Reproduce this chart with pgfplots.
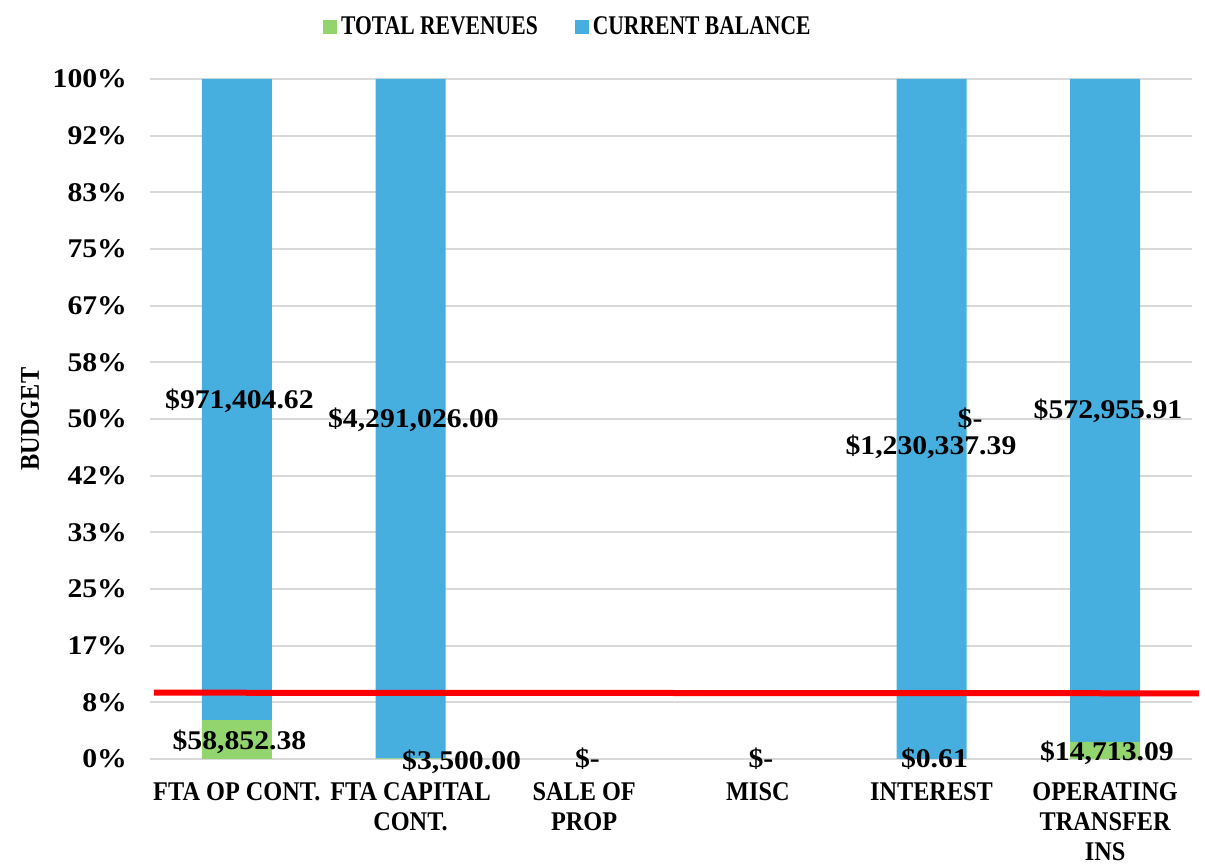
\documentclass[border=0pt]{standalone}
\usepackage{fontspec}
\setmainfont{Liberation Serif}
\newfontfamily\nf{Liberation Serif}[FakeStretch=1.1]
\newfontfamily\kf{Liberation Serif}[FakeStretch=0.9]
\newfontfamily\lf{Liberation Serif}[FakeStretch=0.8]
\usepackage{pgfplots}
\pgfplotsset{compat=1.18}
\definecolor{grn}{RGB}{146,213,110}
\definecolor{blu}{RGB}{70,175,223}
\newcommand\cf{\nf\fontsize{13.5pt}{16.5pt}\selectfont\bfseries}
\newcommand\kcf{\kf\fontsize{13.5pt}{15pt}\selectfont\bfseries}
\newcommand\lcf{\lf\fontsize{13.5pt}{16.5pt}\selectfont\bfseries}
\begin{document}
\begin{tikzpicture}
\begin{axis}[
 name=ax,
 scale only axis, width=521pt, height=340pt,
 xmin=-0.5, xmax=5.5, ymin=0, ymax=100,
 clip=false,
 ybar stacked, bar width=35pt,
 axis line style={draw=none},
 major tick length=0pt,
 ymajorgrids, grid style={gray!30, line width=1pt},
 ytick={0,8.3333,16.6667,25,33.3333,41.6667,50,58.3333,66.6667,75,83.3333,91.6667,100},
 yticklabels={0\%,8\%,17\%,25\%,33\%,42\%,50\%,58\%,67\%,75\%,83\%,92\%,100\%},
 xtick={0,1,2,3,4,5},
 xticklabels={FTA OP CONT.,FTA CAPITAL\\CONT.,SALE OF\\PROP,MISC,INTEREST,OPERATING\\TRANSFER\\INS},
 xticklabel style={align=center, font=\kcf, anchor=north, yshift=-8.5pt},
 yticklabel style={font=\cf, xshift=-8pt},
 ylabel={BUDGET},
 ylabel style={font=\kcf, at={([xshift=-60pt]axis description cs:0,0.5)}, anchor=center},
 legend style={at={(axis description cs:0.402,1.076)}, anchor=center, draw=none, font=\lcf,
   /tikz/every even column/.append style={column sep=16.5pt}},
 legend columns=2, legend cell align=left,
]
\addplot[fill=grn, draw=none, legend image code/.code={\fill[grn] (0pt,-3.5pt) rectangle (7pt,3.5pt);}]
  coordinates {(0,5.712) (1,0.0815) (2,0) (3,0) (4,0) (5,2.504)};
\addlegendentry{TOTAL REVENUES}
\addplot[fill=blu, draw=none, legend image code/.code={\fill[blu] (0pt,-3.5pt) rectangle (7pt,3.5pt);}]
  coordinates {(0,94.288) (1,99.918) (2,0) (3,0) (4,100) (5,97.496)};
\addlegendentry{CURRENT BALANCE}
\end{axis}
\begin{axis}[
 scale only axis, width=521pt, height=340pt,
 xmin=-0.5, xmax=5.5, ymin=0, ymax=100,
 hide axis, clip=false,
]
\addplot[red, line width=3pt, no marks] coordinates {(-0.477,9.75) (5.54,9.66)};
\node[font=\cf] at (axis cs:0.015,2.57) {\$58,852.38};
\node[font=\cf] at (axis cs:1.294,-0.44) {\$3,500.00};
\node[font=\cf] at (axis cs:2.019,0.07) {\$-};
\node[font=\cf] at (axis cs:3.018,0.07) {\$-};
\node[font=\cf] at (axis cs:4.017,0) {\$0.61};
\node[font=\cf] at (axis cs:5.01,0.96) {\$14,713.09};
\node[font=\cf] at (axis cs:0.015,52.72) {\$971,404.62};
\node[font=\cf] at (axis cs:1.017,49.85) {\$4,291,026.00};
\node[font=\cf] at (axis cs:4.222,50.07) {\$-};
\node[font=\cf] at (axis cs:3.997,45.88) {\$1,230,337.39};
\node[font=\cf] at (axis cs:5.016,51.18) {\$572,955.91};
\end{axis}
\pgfresetboundingbox
\path[use as bounding box] ([xshift=-75pt,yshift=-53.5pt]ax.south west) rectangle ++(602.5pt,433pt);
\end{tikzpicture}
\end{document}
